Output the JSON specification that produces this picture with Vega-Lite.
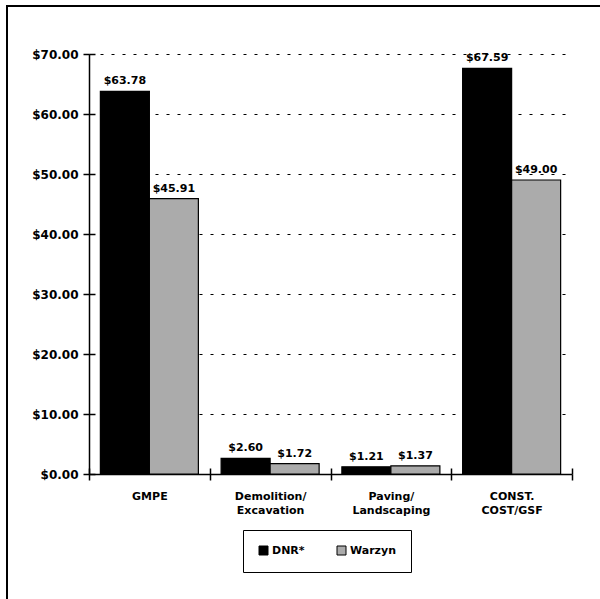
{
  "$schema": "https://vega.github.io/schema/vega-lite/v6.json",
  "width": 593,
  "height": 593,
  "autosize": {"type": "none"},
  "padding": {"left": 7, "top": 6, "right": 0, "bottom": 0},
  "background": "white",
  "config": {
    "view": {"stroke": "black", "strokeWidth": 2, "strokeDash": [593, 1186, 593]},
    "font": "DejaVu Sans",
    "legend": {"strokeColor": "black"}
  },
  "data": {
    "values": [
      {"category": "GMPE", "source": "DNR*", "cost": 63.78},
      {"category": "GMPE", "source": "Warzyn", "cost": 45.91},
      {"category": "Demolition/ Excavation", "source": "DNR*", "cost": 2.60},
      {"category": "Demolition/ Excavation", "source": "Warzyn", "cost": 1.72},
      {"category": "Paving/ Landscaping", "source": "DNR*", "cost": 1.21},
      {"category": "Paving/ Landscaping", "source": "Warzyn", "cost": 1.37},
      {"category": "CONST. COST/GSF", "source": "DNR*", "cost": 67.59},
      {"category": "CONST. COST/GSF", "source": "Warzyn", "cost": 49.00}
    ]
  },
  "layer": [
    {
      "mark": {"type": "bar", "stroke": "black", "strokeWidth": 1.2},
      "encoding": {
        "x": {
          "field": "category", "type": "nominal",
          "sort": ["GMPE", "Demolition/ Excavation", "Paving/ Landscaping", "CONST. COST/GSF"],
          "scale": {"range": [82, 565], "paddingInner": 0, "paddingOuter": 0},
          "axis": {
            "orient": "bottom", "offset": -125, "title": null,
            "tickBand": "extent", "tickSize": 6, "tickColor": "black", "tickWidth": 1.5,
            "domainColor": "black", "domainWidth": 1.5,
            "labelAngle": 0, "labelPadding": 10, "labelLineHeight": 14,
            "labelExpr": "split(datum.label, ' ')",
            "labelFont": "DejaVu Sans", "labelFontWeight": "bold", "labelFontSize": 11,
            "labelColor": "black"
          }
        },
        "xOffset": {
          "field": "source", "type": "nominal", "sort": ["DNR*", "Warzyn"],
          "scale": {"paddingInner": 0, "paddingOuter": 0.232}
        },
        "y": {
          "field": "cost", "type": "quantitative",
          "scale": {"domain": [0, 70], "range": [468, 48], "nice": false},
          "axis": {
            "orient": "left", "offset": -82, "title": null,
            "values": [0, 10, 20, 30, 40, 50, 60, 70], "format": "$.2f",
            "tickSize": 6, "tickColor": "black", "tickWidth": 1.5,
            "domainColor": "black", "domainWidth": 1.5,
            "grid": true, "gridColor": "black", "gridWidth": 1, "gridDash": [3, 8],
            "labelPadding": 5,
            "labelFont": "DejaVu Sans", "labelFontWeight": "bold", "labelFontSize": 12,
            "labelColor": "black"
          }
        },
        "color": {
          "field": "source", "type": "nominal",
          "scale": {"domain": ["DNR*", "Warzyn"], "range": ["#000000", "#ababab"]},
          "legend": {
            "title": null, "orient": "none", "legendX": 236, "legendY": 524,
            "direction": "horizontal", "symbolType": "square", "symbolSize": 81,
            "symbolStrokeColor": "black", "symbolStrokeWidth": 1,
            "padding": 15, "columnPadding": 30, "labelOffset": 3,
            "labelFont": "DejaVu Sans", "labelFontWeight": "bold", "labelFontSize": 11,
            "labelColor": "black", "strokeColor": "black"
          }
        }
      }
    },
    {
      "mark": {"type": "text", "baseline": "bottom", "dy": -5,
               "font": "DejaVu Sans", "fontWeight": "bold", "fontSize": 11, "fill": "black"},
      "encoding": {
        "x": {
          "field": "category", "type": "nominal",
          "sort": ["GMPE", "Demolition/ Excavation", "Paving/ Landscaping", "CONST. COST/GSF"],
          "axis": {
            "orient": "bottom", "offset": -125, "title": null,
            "tickBand": "extent", "tickSize": -6, "tickColor": "black", "tickWidth": 1.5,
            "domain": false, "labels": false, "grid": false
          }
        },
        "xOffset": {"field": "source", "type": "nominal", "sort": ["DNR*", "Warzyn"]},
        "y": {
          "field": "cost", "type": "quantitative",
          "axis": {
            "orient": "left", "offset": -82, "title": null,
            "values": [0, 10, 20, 30, 40, 50, 60, 70],
            "tickSize": -6, "tickColor": "black", "tickWidth": 1.5,
            "domain": false, "labels": false, "grid": false
          }
        },
        "text": {"field": "cost", "type": "quantitative", "format": "$.2f"}
      }
    }
  ],
  "resolve": {"axis": {"x": "independent", "y": "independent"}}
}
